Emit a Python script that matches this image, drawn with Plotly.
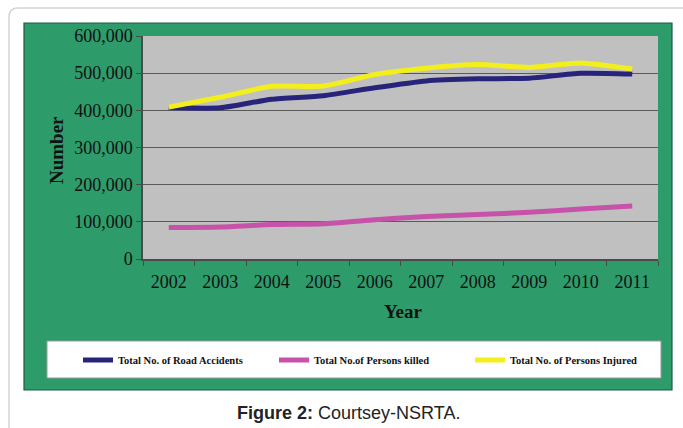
import plotly.graph_objects as go

# ---- data ----
years = ["2002", "2003", "2004", "2005", "2006", "2007", "2008", "2009", "2010", "2011"]
road_accidents = [407497, 406726, 429910, 439255, 460920, 479216, 484704, 486384, 499628, 497686]
persons_killed = [84674, 85998, 92618, 94968, 105749, 114444, 119860, 125660, 134513, 142485]
persons_injured = [408711, 435122, 464521, 465282, 496481, 513340, 523193, 515458, 527512, 511394]
series_names = ["Total No. of Road Accidents", "Total No.of Persons killed", "Total No. of Persons Injured"]
series_colors = ["#28247c", "#c752a9", "#f3ef1c"]
y_ticks = [0, 100000, 200000, 300000, 400000, 500000, 600000]

# ---- layout geometry (pixels) ----
W, H = 683, 428
L, R, T, B = 143, 658, 36, 259  # plot area


def px(x):
    return (x - L) / (R - L)


def py(y):
    return (B - y) / (B - T)


fig = go.Figure()
for vals, name, col in zip([road_accidents, persons_killed, persons_injured], series_names, series_colors):
    fig.add_trace(go.Scatter(x=years, y=vals, name=name, mode="lines",
                             line=dict(color=col, width=5, shape="spline", smoothing=0.6)))

shapes = []
# outer rounded border
r = 9
x0, y0 = 9, 8
path = (f"M {px(x0)},{py(H + 10)} L {px(x0)},{py(y0 + r)} "
        f"Q {px(x0)},{py(y0)} {px(x0 + r)},{py(y0)} L {px(W + 10)},{py(y0)}")
shapes.append(dict(type="path", xref="paper", yref="paper", path=path,
                   line=dict(color="#d4d4d4", width=1.5), fillcolor="white", layer="below"))
# green panel
shapes.append(dict(type="rect", xref="paper", yref="paper", x0=px(24), x1=px(672), y0=py(390), y1=py(23),
                   fillcolor="#2e9b6b", line=dict(color="#1f5a40", width=1.2), layer="below"))
# gray plot area
shapes.append(dict(type="rect", xref="paper", yref="paper", x0=0, x1=1, y0=0, y1=1,
                   fillcolor="#c0c0c0", line=dict(width=0), layer="below"))
# legend box
shapes.append(dict(type="rect", xref="paper", yref="paper", x0=px(47), x1=px(661), y0=py(378), y1=py(341),
                   fillcolor="white", line=dict(color="#9a9a9a", width=1), layer="below"))

annotations = [
    dict(text="<b>Number</b>", xref="paper", yref="paper", x=px(56), y=py(150), textangle=-90,
         showarrow=False, xanchor="center", yanchor="middle",
         font=dict(family="Liberation Serif", size=19, color="#111")),
    dict(text="<b>Year</b>", xref="paper", yref="paper", x=px(403), y=py(311),
         showarrow=False, xanchor="center", yanchor="middle",
         font=dict(family="Liberation Serif", size=19, color="#111")),
    dict(text="<b>Figure 2:</b> Courtsey-NSRTA.", xref="paper", yref="paper", x=px(348), y=py(413),
         showarrow=False, xanchor="center", yanchor="middle",
         font=dict(family="Liberation Sans", size=18, color="#222")),
]

fig.update_layout(
    width=W, height=H,
    margin=dict(l=L, r=W - R, t=T, b=H - B, pad=0),
    paper_bgcolor="white",
    plot_bgcolor="rgba(0,0,0,0)",
    shapes=shapes,
    annotations=annotations,
    showlegend=True,
    legend=dict(orientation="h", x=px(78), y=py(360), xanchor="left", yanchor="middle",
                bgcolor="rgba(0,0,0,0)", borderwidth=0,
                entrywidth=151, entrywidthmode="pixels",
                font=dict(family="Liberation Serif", size=10.5, color="#111", weight="bold"),
                itemclick=False),
    xaxis=dict(type="category", range=[-0.5, 9.5], tickson="boundaries", ticks="outside", ticklen=5,
               tickcolor="#4a4a4a", showline=True, linecolor="#4a4a4a", linewidth=1.5,
               showgrid=False, tickfont=dict(family="Liberation Serif", size=18, color="#111"),
               ticklabelstandoff=6, automargin=False),
    yaxis=dict(range=[0, 600000], tickvals=y_ticks, tickformat=",", ticks="outside", ticklen=5,
               tickcolor="#4a4a4a", showline=True, linecolor="#4a4a4a", linewidth=1.5,
               showgrid=True, gridcolor="#5a5a5a", gridwidth=1, zeroline=False,
               tickfont=dict(family="Liberation Serif", size=18, color="#111"),
               automargin=False),
)

fig.write_html("out.html", config={"displayModeBar": False},
               post_script="document.body.style.margin='0';document.body.style.overflow='hidden';")
